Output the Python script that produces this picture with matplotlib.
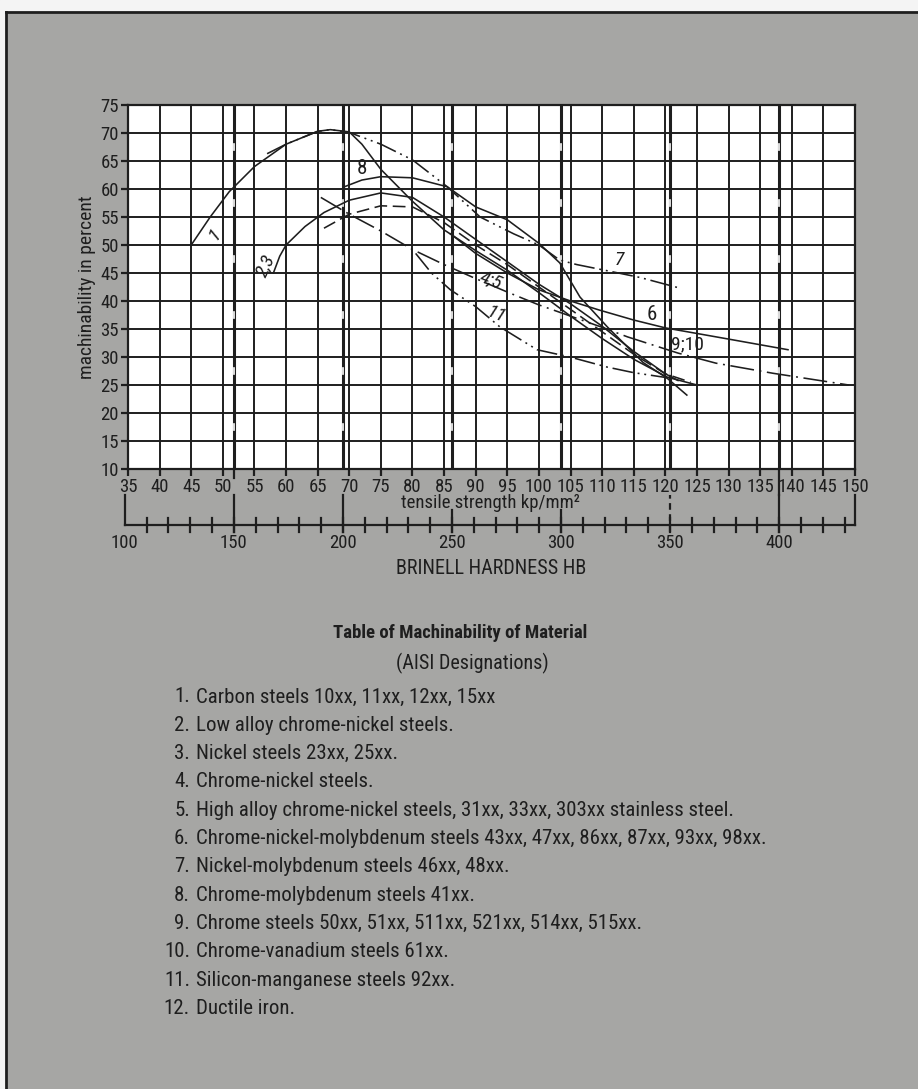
import matplotlib.pyplot as plt
from matplotlib.lines import Line2D
from matplotlib import font_manager

# pick a condensed sans if one is installed (the original uses a condensed grotesque)
cands = ['Roboto Condensed', 'Archivo Narrow', 'PT Sans Narrow', 'Liberation Sans Narrow',
         'Fira Sans Condensed', 'IBM Plex Sans Condensed', 'Encode Sans Condensed',
         'Barlow Semi Condensed', 'Sofia Sans Condensed', 'Open Sans Condensed', 'Roboto']
installed = {f.name for f in font_manager.fontManager.ttflist}
fam = next((c for c in cands if c in installed), 'DejaVu Sans')
plt.rcParams['font.family'] = [fam, 'DejaVu Sans']

# tensile strength kp/mm2 (x) vs machinability in percent (y)
c1_x = [45, 48, 51, 55, 60, 65, 67, 70, 72, 75, 80, 85, 90, 95, 100, 105, 110, 115, 120.3, 125]
c1_y = [50, 55, 59.5, 64, 68, 70.3, 70.6, 70.2, 68, 63.5, 57.8, 52.7, 49, 45.5, 41.5, 37.3, 33.3, 29.6, 26.4, 25]

c23_x = [58, 59, 60, 63, 66, 70, 75, 80, 85, 90, 95, 100, 105, 110, 115, 120, 122]
c23_y = [45, 48, 50, 53.3, 55.8, 58, 59.3, 58.5, 55, 51, 47, 43, 39.5, 35.5, 31, 27, 25.8]

c45_x = [66, 70, 75, 80, 85, 90, 95, 100, 105, 110, 115, 120, 124]
c45_y = [53, 55.5, 57, 56.8, 54, 50, 46.5, 42.5, 38.5, 34.5, 30.5, 27, 25.5]

c6_x = [86, 90, 95, 100, 105, 109.5, 115, 120, 130, 139.4]
c6_y = [52, 48.5, 45, 42, 40, 38.4, 36.6, 35.2, 33.2, 31.3]

c7_x = [57, 60, 65, 67, 70, 75, 80, 85.5, 90.7, 96, 100, 103.3, 106, 111.7, 116, 122.3]
c7_y = [66.3, 68, 70.3, 70.6, 70.1, 68, 65.2, 60.4, 55, 52, 50, 47.3, 46.5, 45.2, 44.2, 42.3]

c8_x = [69, 72, 75, 80, 85.5, 90, 95, 100, 103.3, 106.5, 110.8, 116.5, 120.3, 123.4]
c8_y = [60.3, 61.6, 62.2, 62, 60.4, 56.8, 54.5, 50.3, 46.8, 40.7, 35.4, 29, 26.2, 23.2]

c910_x = [65.5, 70, 75, 80, 85, 90, 95, 100, 105, 110, 114, 122, 128, 137, 149]
c910_y = [58.5, 55.5, 52.5, 49.2, 46.5, 44, 41.6, 39.3, 37.3, 35.3, 33.6, 30.7, 28.9, 27.1, 25]

c11_x = [80.5, 83, 86, 90, 93.8, 99.7, 104.9, 110.8, 115, 120.3]
c11_y = [48.5, 45, 42, 39, 35.4, 31.3, 30, 28.2, 27.2, 26.3]

tensile_ticks = list(range(35, 151, 5))
pct_ticks = list(range(10, 76, 5))
brinell_major = [100, 150, 200, 250, 300, 350, 400]
brinell_minor = list(range(110, 431, 10))

legend_items = [
    "Carbon steels 10xx, 11xx, 12xx, 15xx",
    "Low alloy chrome-nickel steels.",
    "Nickel steels 23xx, 25xx.",
    "Chrome-nickel steels.",
    "High alloy chrome-nickel steels, 31xx, 33xx, 303xx stainless steel.",
    "Chrome-nickel-molybdenum steels 43xx, 47xx, 86xx, 87xx, 93xx, 98xx.",
    "Nickel-molybdenum steels 46xx, 48xx.",
    "Chrome-molybdenum steels 41xx.",
    "Chrome steels 50xx, 51xx, 511xx, 521xx, 514xx, 515xx.",
    "Chrome-vanadium steels 61xx.",
    "Silicon-manganese steels 92xx.",
    "Ductile iron.",
]

W, H = 918, 1089
bg = '#a6a6a4'
ink = '#1e1e1e'
fs = 13.5

fig = plt.figure(figsize=(W / 100, H / 100), dpi=100)
fig.patch.set_facecolor(bg)

# white margin and black frame lines of the scanned page
fig.add_artist(plt.Rectangle((0, 1 - 12 / H), 1, 12 / H, transform=fig.transFigure, color='#f4f4f4', zorder=0))
fig.add_artist(plt.Rectangle((0, 0), 6 / W, 1, transform=fig.transFigure, color='#f4f4f4', zorder=0))
fig.add_artist(Line2D([6 / W, 1], [1 - 12 / H, 1 - 12 / H], transform=fig.transFigure, color=ink, lw=2))
fig.add_artist(Line2D([6 / W, 6 / W], [0, 1 - 12 / H], transform=fig.transFigure, color=ink, lw=2))

ax = fig.add_axes([128 / W, 1 - 469 / H, (855 - 128) / W, (469 - 105) / H])
ax.set_facecolor('white')
ax.set_xlim(35, 150)
ax.set_ylim(10, 75)
ax.set_xticks(tensile_ticks)
ax.set_xticklabels([str(t) for t in tensile_ticks], fontsize=fs)
ax.set_yticks(pct_ticks)
ax.set_yticklabels([str(t) for t in pct_ticks], fontsize=fs)
ax.tick_params(direction='out', length=5, width=1.6, color=ink, labelcolor=ink, pad=1.5)
ax.grid(True, color=ink, lw=1.4)
for s in ax.spines.values():
    s.set_color(ink)
    s.set_linewidth(1.6)
ax.set_axisbelow(True)
ax.set_ylabel('machinability in percent', fontsize=14, color=ink, labelpad=3)

# Brinell hardness reference lines (HB -> tensile ~ 0.345 * HB)
def hb(v):
    return 0.345 * v

for v in brinell_major[1:]:
    xv = hb(v)
    ax.plot([xv, xv], [10, 75], color=ink, lw=2.2, zorder=2)
    for yy in [17.5, 27.5, 37.5, 47.5, 57.5, 67.5]:
        ax.plot([xv, xv], [yy - 0.6, yy + 0.6], color='white', lw=1.2, zorder=2.1)

# curves
lw = 1.15
solid = dict(color=ink, lw=lw, zorder=3)
ax.plot(c1_x, c1_y, **solid)
ax.plot(c23_x, c23_y, **solid)
ax.plot(c6_x, c6_y, **solid)
ax.plot(c8_x, c8_y, **solid)
ax.plot(c45_x, c45_y, color=ink, lw=lw, dashes=(8, 3.5), zorder=3)
ax.plot(c7_x, c7_y, color=ink, lw=lw, dashes=(13, 3, 1.2, 3, 1.2, 3), zorder=3)
ax.plot(c11_x, c11_y, color=ink, lw=lw, dashes=(13, 3, 1.2, 3, 1.2, 3), zorder=3)
ax.plot(c910_x, c910_y, color=ink, lw=lw, dashes=(15, 3.5, 1.2, 3.5), zorder=3)

# curve labels
lab = dict(color=ink, fontsize=14, style='italic', zorder=4, ha='center', va='center')
ax.text(48.8, 52, '1', rotation=50, **lab)
ax.text(56.7, 46.3, '2,3', rotation=65, **lab)
ax.text(72, 63.6, '8', ha='center', va='center', color=ink, fontsize=15, zorder=4)
ax.text(112.8, 47.4, '7', **lab)
ax.text(117.8, 37.6, '6', ha='center', va='center', color=ink, fontsize=15, zorder=4)
ax.text(123.5, 32.3, '9;10', ha='center', va='center', color=ink, fontsize=14, zorder=4)
ax.text(92.5, 43.7, '4;5', rotation=-22, **lab)
ax.text(93.2, 37.5, '11', rotation=-22, **lab)

# Brinell scale below the tensile axis (drawn in data coordinates)
yb = 0.0
kw = dict(color=ink, lw=1.6, clip_on=False, zorder=5)
ax.plot([hb(100), 150], [yb, yb], **kw)
ax.plot([hb(100), hb(100)], [yb, 5.4], **kw)
ax.plot([150, 150], [yb, 5.4], **kw)
for v in brinell_minor:
    ax.plot([hb(v), hb(v)], [-1.2, 1.3], **kw)
for v in [150, 200, 400]:
    ax.plot([hb(v), hb(v)], [-1.2, 5.4], **kw)
ax.plot([hb(400), hb(400)], [5.4, 10], **kw)
ax.plot([hb(150), hb(150)], [8.4, 10], **kw)
ax.plot([hb(350), hb(350)], [-1.2, 5.4], color=ink, lw=1.6, dashes=(3, 2), clip_on=False)
for v in [250, 300]:
    ax.plot([hb(v), hb(v)], [-1.2, 2.7], **kw)
for v in brinell_major:
    ax.text(hb(v), -3.3, str(v), ha='center', va='center', fontsize=fs, color=ink)
ax.text(92.3, 3.9, 'tensile strength kp/mm²', ha='center', va='center', fontsize=fs, color=ink)
ax.text(92.5, -7.7, 'BRINELL HARDNESS HB', ha='center', va='center', fontsize=14.5, color=ink)

# table below the chart
fig.text(460 / W, 1 - 633 / H, 'Table of Machinability of Material', ha='center', va='center',
         fontsize=13.5, fontweight='bold', color=ink)
fig.text(472 / W, 1 - 663 / H, '(AISI Designations)', ha='center', va='center', fontsize=14.5, color=ink)
for i, item in enumerate(legend_items):
    yy = 1 - (697 + 28.3 * i) / H
    fig.text(190 / W, yy, f'{i + 1}.', ha='right', va='center', fontsize=15, color=ink)
    fig.text(196 / W, yy, item, ha='left', va='center', fontsize=15, color=ink)

fig.savefig('out.png', dpi=100, facecolor=bg)
